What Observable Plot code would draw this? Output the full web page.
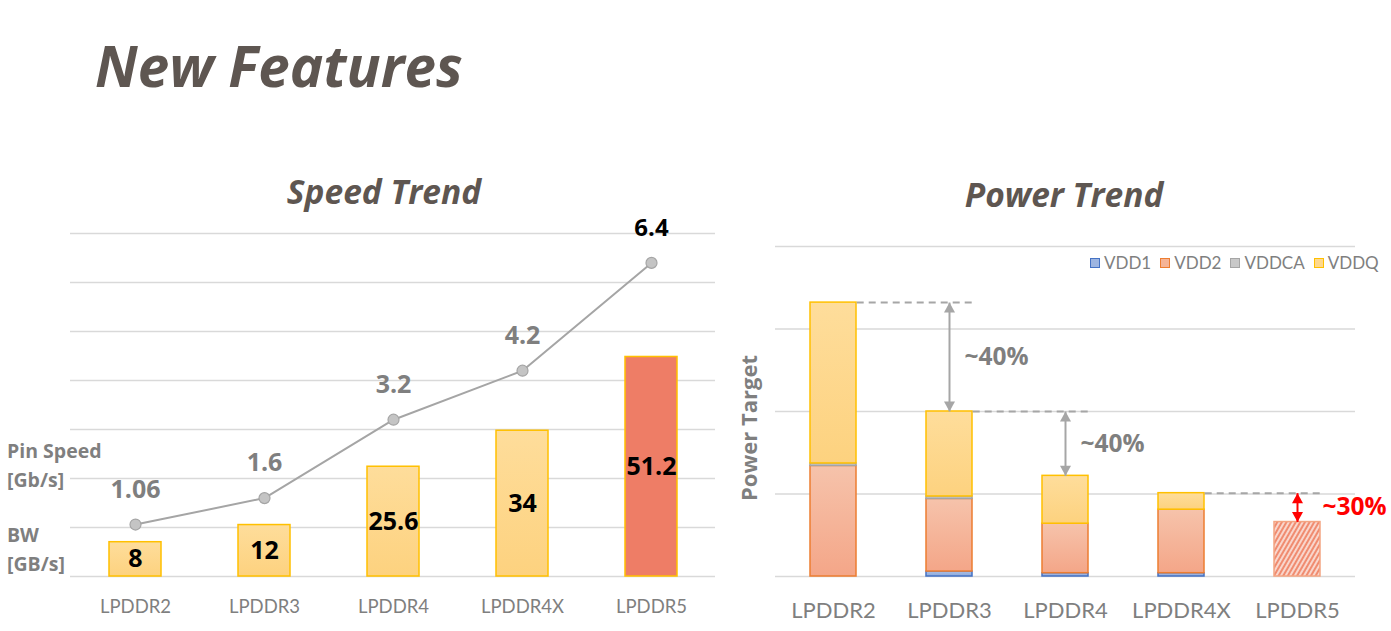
<!DOCTYPE html>
<html>
<head>
<meta charset="utf-8">
<script src="https://cdn.jsdelivr.net/npm/d3@7"></script>
<script src="https://cdn.jsdelivr.net/npm/@observablehq/plot@0.6"></script>
<style>
  html, body { margin: 0; padding: 0; background: #fff; }
  body { width: 1391px; height: 631px; overflow: hidden; position: relative; font-family: Lato, "Open Sans", sans-serif; }
  .abs { position: absolute; }
  .ttl { font-family: "Open Sans", Lato, sans-serif; font-weight: bold; font-style: italic; color: #5e5651; line-height: 1; white-space: nowrap; }
  .side { font-family: "Open Sans", Lato, sans-serif; font-weight: bold; color: #7f7f7f; font-size: 19.5px; line-height: 29px; white-space: nowrap; }
  #legend { display: flex; align-items: center; font-size: 17px; color: #7f7f7f; line-height: 1; }
  #legend span { display: flex; align-items: center; margin-right: 9px; }
  #legend i { display: inline-block; width: 8px; height: 8px; border-width: 1.5px; border-style: solid; margin-right: 4px; }
</style>
</head>
<body>
<svg width="0" height="0" style="position:absolute">
  <defs>
    <linearGradient id="gYellow" x1="0" y1="0" x2="0" y2="1">
      <stop offset="0" stop-color="#fedd9b"/><stop offset="1" stop-color="#fdd27f"/>
    </linearGradient>
    <linearGradient id="gSalmon" x1="0" y1="0" x2="0" y2="1">
      <stop offset="0" stop-color="#f6c3ab"/><stop offset="1" stop-color="#f4a688"/>
    </linearGradient>
    <linearGradient id="gBlue" x1="0" y1="0" x2="0" y2="1">
      <stop offset="0" stop-color="#a9bfe6"/><stop offset="1" stop-color="#8eaadb"/>
    </linearGradient>
    <linearGradient id="gGray" x1="0" y1="0" x2="0" y2="1">
      <stop offset="0" stop-color="#d0d0d0"/><stop offset="1" stop-color="#bfbfbf"/>
    </linearGradient>
    <pattern id="hatch" patternUnits="userSpaceOnUse" width="4" height="4" patternTransform="rotate(30)">
      <rect width="4" height="4" fill="#f08c70"/>
      <line x1="1" y1="0" x2="1" y2="4" stroke="#ffffff" stroke-width="1.3"/>
    </pattern>
  </defs>
</svg>

<div id="title" class="abs ttl" style="left:95px;top:38px;font-size:56.5px;">New Features</div>
<div class="abs ttl" style="left:234px;top:175px;width:300px;text-align:center;font-size:33.5px;">Speed Trend</div>
<div class="abs ttl" style="left:914px;top:178px;width:300px;text-align:center;font-size:33.5px;">Power Trend</div>

<div class="abs side" style="left:7px;top:436px;">Pin Speed<br>[Gb/s]</div>
<div class="abs side" style="left:7px;top:520px;">BW<br>[GB/s]</div>
<div class="abs side" style="left:648px;top:414px;width:200px;height:28px;line-height:28px;text-align:center;font-size:22px;transform:rotate(-90deg);">Power Target</div>

<div id="speedLine" class="abs" style="left:0;top:200px;"></div>
<div id="speedBars" class="abs" style="left:0;top:200px;"></div>
<div id="power" class="abs" style="left:730px;top:200px;"></div>
<div id="legend" class="abs" style="left:1090px;top:254px;"></div>

<script>
// ---------- data ----------
const gens = ["LPDDR2", "LPDDR3", "LPDDR4", "LPDDR4X", "LPDDR5"];
const bandwidth = [8, 12, 25.6, 34, 51.2];          // BW [GB/s]
const bwLabels = ["8", "12", "25.6", "34", "51.2"];
const pinSpeed = [1.06, 1.6, 3.2, 4.2, 6.4];        // Pin speed [Gb/s]
const pinLabels = ["1.06", "1.6", "3.2", "4.2", "6.4"];
const speedTicks = [0, 1, 2, 3, 4, 5, 6, 7];

const powerSeries = ["VDD1", "VDD2", "VDDCA", "VDDQ"];
const vdd1  = [0.00, 0.06, 0.04, 0.04, 0];
const vdd2  = [1.34, 0.88, 0.60, 0.77, 0];
const vddca = [0.03, 0.03, 0.00, 0.00, 0];
const vddq  = [1.95, 1.03, 0.58, 0.20, 0];
const lp5Target = [0, 0, 0, 0, 0.66];
const powerTicks = [0, 1, 2, 3, 4];

// annotations (reductions between generations)
const dashFrom = ["LPDDR2", "LPDDR3", "LPDDR4X"];
const dashTo   = ["LPDDR3", "LPDDR4", "LPDDR5"];
const dashLevel = [3.32, 2.00, 1.01];
const arrowGen = ["LPDDR3", "LPDDR4", "LPDDR5"];
const arrowTop = [3.32, 2.00, 1.01];
const arrowBottom = [2.00, 1.22, 0.66];
const arrowText = ["~40%", "~40%", "~30%"];

// ---------- tables ----------
const speedRows = gens.map((g, i) => ({gen: g, bw: bandwidth[i], bwLabel: bwLabels[i], pin: pinSpeed[i], pinLabel: pinLabels[i]}));
const seriesValues = {VDD1: vdd1, VDD2: vdd2, VDDCA: vddca, VDDQ: vddq, Target: lp5Target};
const powerRows = [];
gens.forEach((g, i) => {
  for (const s of ["VDD1", "VDD2", "VDDCA", "VDDQ", "Target"]) {
    if (seriesValues[s][i] > 0) powerRows.push({gen: g, series: s, value: seriesValues[s][i]});
  }
});
const dashRows = dashFrom.map((f, i) => ({from: f, to: dashTo[i], v: dashLevel[i]}));
const arrowRows = arrowGen.map((g, i) => ({gen: g, top: arrowTop[i], bottom: arrowBottom[i], mid: (arrowTop[i] + arrowBottom[i]) / 2, text: arrowText[i], red: i === 2}));

const fillOf = {VDD1: "url(#gBlue)", VDD2: "url(#gSalmon)", VDDCA: "url(#gGray)", VDDQ: "url(#gYellow)", Target: "url(#hatch)"};
const strokeOf = {VDD1: "#4472c4", VDD2: "#ed7d31", VDDCA: "#a5a5a5", VDDQ: "#ffc000", Target: "#f4a582"};
const legendFill = {VDD1: "#9db5e1", VDD2: "#f5b497", VDDCA: "#c8c8c8", VDDQ: "#fed88d"};

const FONT = "Lato, 'Open Sans', sans-serif";
const BOLD = "'Open Sans', Lato, sans-serif";

// ---------- speed chart ----------
const W1 = 730, H1 = 420;
const m1 = {marginLeft: 70, marginRight: 15, marginTop: 33, marginBottom: 44};

const lineChart = Plot.plot({
  width: W1, height: H1, ...m1,
  x: {type: "point", domain: gens, padding: 0.5, axis: null},
  y: {domain: [0, 7], axis: null},
  style: {fontFamily: FONT, background: "transparent", overflow: "visible"},
  marks: [
    Plot.ruleY(speedTicks, {stroke: "#d9d9d9", strokeWidth: 1.3}),
    Plot.line(speedRows, {x: "gen", y: "pin", stroke: "#a5a5a5", strokeWidth: 2}),
    Plot.dot(speedRows, {x: "gen", y: "pin", r: 5.5, fill: "#c4c4c4", stroke: "#a5a5a5", strokeWidth: 1.2}),
    Plot.text(speedRows, {filter: d => d.gen !== "LPDDR5", x: "gen", y: "pin", text: "pinLabel", dy: -35, fill: "#7f7f7f", fontSize: 25, fontWeight: "bold", fontFamily: BOLD}),
    Plot.text(speedRows, {filter: d => d.gen === "LPDDR5", x: "gen", y: "pin", text: "pinLabel", dy: -35, fill: "#000000", fontSize: 24, fontWeight: "bold", fontFamily: BOLD})
  ]
});
document.getElementById("speedLine").appendChild(lineChart);

const barChart = Plot.plot({
  width: W1, height: H1, ...m1,
  x: {type: "band", domain: gens, paddingInner: 0.6, paddingOuter: 0.3, tickSize: 0, tickPadding: 23, label: null},
  y: {domain: [0, 80], axis: null},
  style: {fontFamily: FONT, fontSize: "18.5px", color: "#7f7f7f", background: "transparent", overflow: "visible"},
  marks: [
    Plot.barY(speedRows, {x: "gen", y: "bw", fill: d => d.gen === "LPDDR5" ? "#ee7d66" : "url(#gYellow)", stroke: "#ffc000", strokeWidth: 1.5}),
    Plot.text(speedRows, Plot.stackY({x: "gen", y: "bw", text: "bwLabel", fill: "#000000", fontSize: 25, fontWeight: "bold", fontFamily: BOLD}))
  ],
  color: {type: "identity"}
});
document.getElementById("speedBars").appendChild(barChart);

// ---------- power chart ----------
const W2 = 661, H2 = 431;
const m2 = {marginLeft: 45, marginRight: 36, marginTop: 46, marginBottom: 55};
const step2 = (W2 - m2.marginLeft - m2.marginRight) / gens.length;
const half2 = step2 * 0.4 / 2;

const headUp = {draw(ctx) { ctx.moveTo(0, 0); ctx.lineTo(5.5, 10); ctx.lineTo(-5.5, 10); ctx.closePath(); }};
const headDown = {draw(ctx) { ctx.moveTo(0, 0); ctx.lineTo(5.5, -10); ctx.lineTo(-5.5, -10); ctx.closePath(); }};

const powerChart = Plot.plot({
  width: W2, height: H2, ...m2,
  x: {type: "band", domain: gens, paddingInner: 0.6, paddingOuter: 0.3, tickSize: 0, tickPadding: 26, label: null},
  y: {domain: [0, 4], axis: null},
  color: {type: "identity"},
  style: {fontFamily: FONT, fontSize: "22px", color: "#7f7f7f", background: "transparent", overflow: "visible"},
  marks: [
    Plot.ruleY(powerTicks, {stroke: "#d9d9d9", strokeWidth: 1.3}),
    Plot.barY(powerRows, Plot.stackY({x: "gen", y: "value", fill: d => fillOf[d.series], stroke: d => strokeOf[d.series], strokeWidth: 1.5})),
    Plot.link(dashRows, {x1: "from", x2: "to", y1: "v", y2: "v", dx: half2, stroke: "#a6a6a6", strokeWidth: 2, strokeDasharray: "7,5"}),
    Plot.link(arrowRows, {x1: "gen", x2: "gen", y1: "top", y2: "bottom", stroke: d => d.red ? "#ff0000" : "#a6a6a6", strokeWidth: 2}),
    Plot.dot(arrowRows, {x: "gen", y: "top", symbol: headUp, fill: d => d.red ? "#ff0000" : "#a6a6a6", stroke: "none"}),
    Plot.dot(arrowRows, {x: "gen", y: "bottom", symbol: headDown, fill: d => d.red ? "#ff0000" : "#a6a6a6", stroke: "none"}),
    Plot.text(arrowRows, {filter: d => !d.red, x: "gen", y: "mid", text: "text", dx: 15, textAnchor: "start", fill: "#7f7f7f", fontSize: 24.5, fontWeight: "bold", fontFamily: BOLD}),
    Plot.text(arrowRows, {filter: d => d.red, x: "gen", y: "mid", text: "text", dx: 25, textAnchor: "start", fill: "#ff0000", fontSize: 24.5, fontWeight: "bold", fontFamily: BOLD})
  ]
});
document.getElementById("power").appendChild(powerChart);

// ---------- legend ----------
const legend = document.getElementById("legend");
for (const s of powerSeries) {
  const span = document.createElement("span");
  const sw = document.createElement("i");
  sw.style.background = legendFill[s];
  sw.style.borderColor = strokeOf[s];
  span.appendChild(sw);
  span.appendChild(document.createTextNode(s));
  legend.appendChild(span);
}
</script>
</body>
</html>
